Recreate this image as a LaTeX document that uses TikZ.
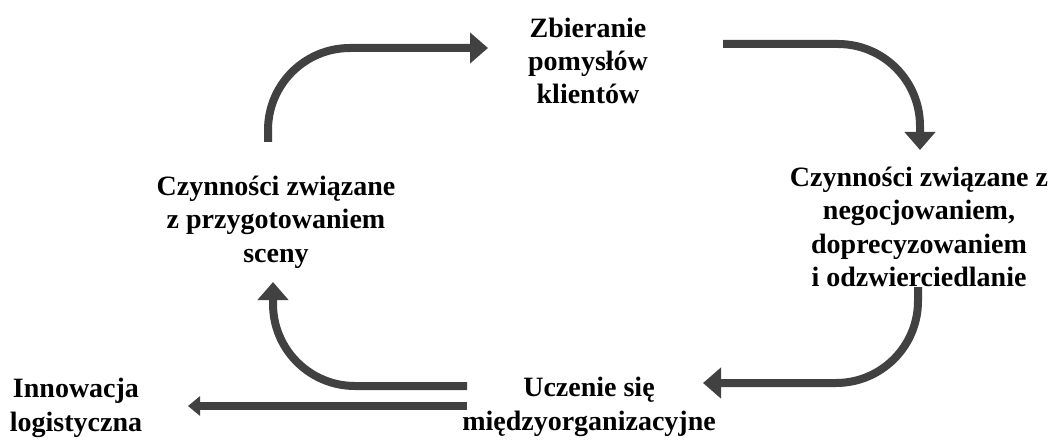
\documentclass[tikz,border=0pt]{standalone}
\usepackage{fontspec}
\setmainfont{Liberation Serif}
\usetikzlibrary{arrows.meta}
\definecolor{arrowgray}{HTML}{414141}
\begin{document}
\begin{tikzpicture}[
    x=1pt, y=-1pt,
    font=\fontsize{28}{33.3}\selectfont\bfseries,
    txt/.style={align=center, inner sep=0pt},
    flow/.style={draw=arrowgray, line width=8pt, rounded corners=82pt,
      -{Triangle[width=30pt, length=18pt]}},
    thin flow/.style={draw=arrowgray, line width=8pt,
      -{Triangle[width=19pt, length=12pt]}}]
  \useasboundingbox (0,0) rectangle (1055,441);
  % texts
  \node[txt] (ideas) at (588,61) {Zbieranie\\pomysłów\\klientów};
  \node[txt] (scene) at (276,222) {Czynności związane\\z przygotowaniem\\sceny};
  \node[txt] (negot) at (919,227) {Czynności związane z\\negocjowaniem,\\doprecyzowaniem\\i odzwierciedlanie};
  \node[txt] (learn) at (589,407) {Uczenie się\\międzyorganizacyjne};
  \node[txt] (innov) at (76,408) {Innowacja\\logistyczna};
  % arrow ends
  \coordinate (a1) at (268,142);
  \coordinate (b1) at (488,48);
  \coordinate (a2) at (723,44);
  \coordinate (b2) at (920,150);
  \coordinate (a3) at (918,287);
  \coordinate (b3) at (703,383);
  \coordinate (a4) at (467,386);
  \coordinate (b4) at (273,282);
  \coordinate (a5) at (467,406);
  \coordinate (b5) at (188,406);
  % the cycle
  \draw[flow] (a1) |- (b1);
  \draw[flow] (a2) -| (b2);
  \draw[flow] (a3) |- (b3);
  \draw[flow] (a4) -| (b4);
  % way out
  \draw[thin flow] (a5) -- (b5);
\end{tikzpicture}
\end{document}
